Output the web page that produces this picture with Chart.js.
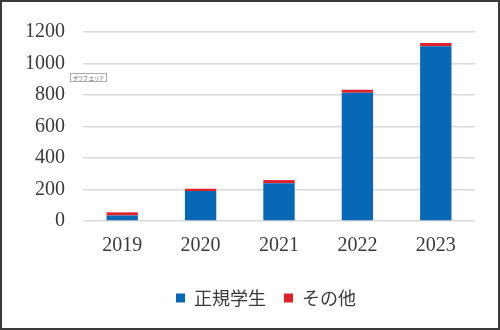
<!DOCTYPE html>
<html>
<head>
<meta charset="utf-8">
<script src="https://cdn.jsdelivr.net/npm/chart.js@4"></script>
<style>
  html, body { margin: 0; padding: 0; background: #fff; }
  #wrap {
    position: relative;
    width: 500px; height: 330px;
    box-sizing: border-box;
    border: 2px solid #3a3a3a;
  }
  #tag {
    position: absolute; left: 68px; top: 71px;
    font: 5px "Noto Sans CJK JP", sans-serif;
    color: #555; background: #fff;
    border: 1px solid #aaa; padding: 0 2px; line-height: 7px;
  }
</style>
</head>
<body>
<div id="wrap">
  <canvas id="myChart" width="496" height="326"></canvas>
  <div id="tag">グラフ エリア</div>
</div>
<script>
// categories and values
const years = ['2019', '2020', '2021', '2022', '2023'];
const regularStudents = [35, 190, 240, 815, 1110];
const otherStudents = [20, 15, 20, 18, 20];
const seriesNames = ['正規学生', 'その他'];
const yTicks = [0, 200, 400, 600, 800, 1000, 1200];

const blue = '#0768b8';
const red = '#e0222b';

// the legend in the picture sits a bit right of the canvas centre
const legendShift = {
    id: 'legendShift',
    afterLayout(chart) {
        chart.legend.left += 25;
        chart.legend.right += 25;
    }
};

const data = {
    labels: years,
    datasets: [{
        label: seriesNames[0],
        data: regularStudents,
        backgroundColor: blue,
        borderWidth: 0,
        barPercentage: 0.4,
        categoryPercentage: 1.0
    }, {
        label: seriesNames[1],
        data: otherStudents,
        backgroundColor: red,
        borderWidth: 0,
        barPercentage: 0.4,
        categoryPercentage: 1.0
    }]
};

const config = {
    type: 'bar',
    data: data,
    plugins: [legendShift],
    options: {
        responsive: false,
        animation: false,
        layout: {
            padding: { left: 5, right: 23, top: 19, bottom: 11 }
        },
        scales: {
            x: {
                stacked: true,
                grid: { display: false, drawTicks: false },
                border: { display: false },
                ticks: {
                    color: '#3a3a3a',
                    padding: 13,
                    font: { family: '"Liberation Serif", serif', size: 20 }
                }
            },
            y: {
                stacked: true,
                min: 0,
                max: 1200,
                afterBuildTicks: (axis) => {
                    axis.ticks = yTicks.map(v => ({ value: v }));
                },
                grid: { color: '#d9d9d9', lineWidth: 1.5, drawTicks: false },
                border: { display: false },
                ticks: {
                    color: '#3a3a3a',
                    padding: 18,
                    font: { family: '"Liberation Serif", serif', size: 20 },
                    callback: (value) => String(value) // no thousands comma
                }
            }
        },
        plugins: {
            legend: {
                position: 'bottom',
                labels: {
                    boxWidth: 9,
                    boxHeight: 9,
                    padding: 18,
                    color: '#3a3a3a',
                    font: { family: '"Noto Sans CJK JP", sans-serif', size: 18 }
                }
            },
            tooltip: { enabled: false }
        }
    }
};

const myChart = new Chart(document.getElementById('myChart'), config);
</script>
</body>
</html>
